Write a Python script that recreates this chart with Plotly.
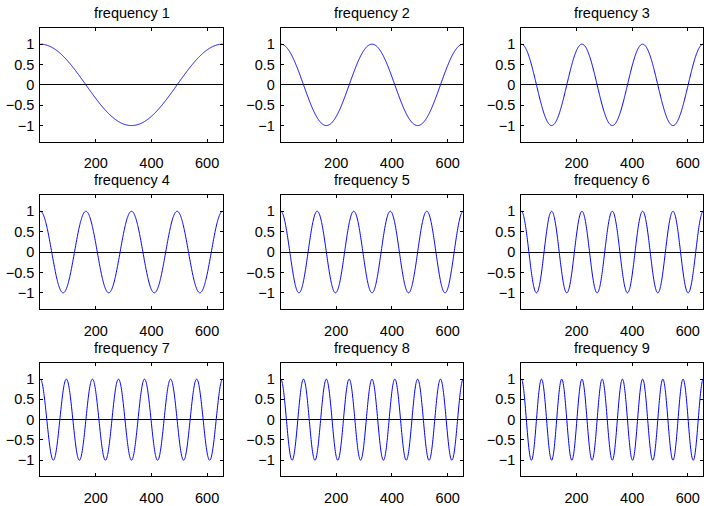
import numpy as np
import plotly.graph_objects as go

# ---- data ----
frequencies = [1, 2, 3, 4, 5, 6, 7, 8, 9]
n_samples = 656
x_ticks = [200, 400, 600]
y_ticks = [-1, -0.5, 0, 0.5, 1]
y_tick_labels = ["\u22121", "\u22120.5", "0", "0.5", "1"]
titles = [f"frequency {k}" for k in frequencies]

sample_index = np.arange(1, n_samples + 1)

# ---- layout geometry (px in 704x506 canvas) ----
W, H = 704, 506
col_px = [(40.3, 222.7), (280.7, 463.3), (521.3, 703.3)]
row_px = [(28.5, 145.0), (199.3, 316.0), (371.0, 487.0)]

FONT = "Liberation Sans, Arial, Helvetica, sans-serif"
FS = 14.5

fig = go.Figure()
annotations = []
for i, k in enumerate(frequencies):
    r, c = divmod(i, 3)
    ax = "" if i == 0 else str(i + 1)
    xa, ya = "x" + ax, "y" + ax
    values = np.cos(2 * np.pi * k * (sample_index - 1) / (n_samples - 1))
    fig.add_trace(go.Scatter(x=sample_index, y=values, mode="lines",
                             line=dict(color="#0000ff", width=1, simplify=False),
                             xaxis=xa, yaxis=ya, showlegend=False,
                             hoverinfo="skip"))
    xd = [col_px[c][0] / W, col_px[c][1] / W]
    yd = [1 - row_px[r][1] / H, 1 - row_px[r][0] / H]
    common = dict(showline=True, linecolor="black", linewidth=1, mirror="ticks",
                  ticks="inside", ticklen=3, tickcolor="black", showgrid=False,
                  tickfont=dict(family=FONT, size=FS, color="black"))
    fig.layout["xaxis" + ax] = dict(domain=xd, anchor=ya, range=[1, n_samples],
                                    tickvals=x_ticks, zeroline=False,
                                    ticklabelstandoff=8, **common)
    fig.layout["yaxis" + ax] = dict(domain=yd, anchor=xa, range=[-1.4, 1.4],
                                    tickvals=y_ticks, ticktext=y_tick_labels,
                                    zeroline=True, zerolinecolor="black",
                                    zerolinewidth=1, ticklabelstandoff=2, **common)
    annotations.append(dict(text=titles[i], x=(xd[0] + xd[1]) / 2, y=yd[1],
                            xref="paper", yref="paper", xanchor="center",
                            yanchor="bottom", yshift=5, showarrow=False,
                            font=dict(family=FONT, size=FS, color="black")))

fig.update_layout(width=W, height=H, margin=dict(l=0, r=0, t=0, b=0),
                  paper_bgcolor="white", plot_bgcolor="white",
                  annotations=annotations)

fig.write_html("out.html", config={"displayModeBar": False},
               post_script="document.body.style.margin='0';"
                           "document.body.style.overflow='hidden';")
